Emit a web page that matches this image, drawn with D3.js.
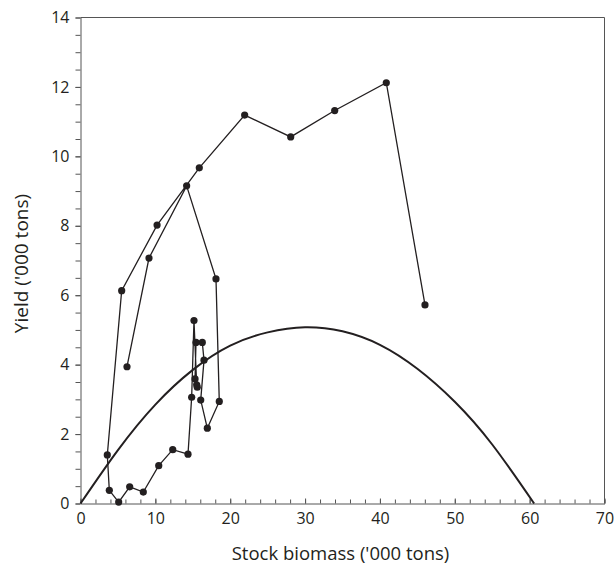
<!DOCTYPE html>
<html>
<head>
<meta charset="utf-8">
<script src="https://cdn.jsdelivr.net/npm/d3@7"></script>
<style>
  body { margin: 0; background: #fff; }
  svg text { font-family: "Open Sans", "Noto Sans", sans-serif; fill: #231f20; }
  .axis path, .axis line { stroke: #555; }
</style>
</head>
<body>
<svg id="chart"></svg>
<script>
// observed (stock biomass, yield) pairs in thousand tons, in path order
const biomass = [6.21, 9.15, 14.18, 18.1, 18.54, 16.94, 16.06, 16.5, 16.27, 15.43, 15.3, 15.6, 15.52,
  15.16, 14.85, 14.36, 12.32, 10.45, 8.39, 6.57, 5.1, 3.85, 3.58, 5.5, 10.23, 15.87, 21.93, 28.08,
  33.96, 40.85, 46.02];
const yieldTons = [3.94, 7.07, 9.15, 6.47, 2.94, 2.17, 2.98, 4.13, 4.64, 4.64, 3.59, 3.35, 3.42,
  5.27, 3.06, 1.42, 1.55, 1.09, 0.33, 0.48, 0.04, 0.38, 1.4, 6.13, 8.02, 9.67, 11.19, 10.56,
  11.32, 12.12, 5.72];

// equilibrium yield curve
const curveBiomass = [0, 5, 10, 15, 20, 25, 30, 35, 40, 45, 50, 55, 60.6];
const curveYield = [0, 1.54, 2.85, 3.85, 4.55, 4.93, 5.08, 4.96, 4.57, 3.88, 2.93, 1.7, 0];

const xTicks = [0, 10, 20, 30, 40, 50, 60, 70];
const yTicks = [0, 2, 4, 6, 8, 10, 12, 14];

const width = 615, height = 567;
const margin = { top: 17.5, right: 10.5, bottom: 63.5, left: 80.5 };
const innerW = width - margin.left - margin.right;
const innerH = height - margin.top - margin.bottom;

const svg = d3.select('#chart')
  .attr('width', width)
  .attr('height', height);

const g = svg.append('g')
  .attr('transform', `translate(${margin.left},${margin.top})`);

const x = d3.scaleLinear().domain([0, 70]).range([0, innerW]);
const y = d3.scaleLinear().domain([0, 14]).range([innerH, 0]);

// frame (top and right)
g.append('path')
  .attr('d', `M0,0H${innerW}V${innerH}`)
  .attr('fill', 'none')
  .attr('stroke', '#555');

// minor ticks
const xMinor = g.append('g')
  .attr('class', 'axis')
  .attr('transform', `translate(0,${innerH})`)
  .call(d3.axisBottom(x).tickValues(d3.range(0, 71, 2)).tickSize(-4).tickFormat(''));
xMinor.select('.domain').remove();

const yMinor = g.append('g')
  .attr('class', 'axis')
  .call(d3.axisLeft(y).tickValues(d3.range(0, 14.01, 0.5)).tickSize(5).tickFormat(''));
yMinor.select('.domain').remove();

// major axes
const xAxisG = g.append('g')
  .attr('class', 'axis')
  .attr('transform', `translate(0,${innerH})`)
  .call(d3.axisBottom(x).tickValues(xTicks).tickSize(-5).tickPadding(9).tickSizeOuter(0));
xAxisG.selectAll('text').attr('font-size', 16).attr('dy', '0.71em');

const yAxisG = g.append('g')
  .attr('class', 'axis')
  .call(d3.axisLeft(y).tickValues(yTicks).tickSize(5).tickPadding(6).tickSizeOuter(0));
yAxisG.selectAll('text').attr('font-size', 16);

g.selectAll('.axis text').style('font-family', '"Open Sans", "Noto Sans", sans-serif').attr('fill', '#231f20');

// axis titles
svg.append('text')
  .attr('x', margin.left + innerW / 2 - 2)
  .attr('y', 560)
  .attr('text-anchor', 'middle')
  .attr('font-size', 18.5)
  .text("Stock biomass ('000 tons)");

svg.append('text')
  .attr('transform', `translate(28,${margin.top + innerH / 2 + 3}) rotate(-90)`)
  .attr('text-anchor', 'middle')
  .attr('font-size', 19)
  .text("Yield ('000 tons)");

// equilibrium curve
const curveData = curveBiomass.map((b, i) => ({ b, v: curveYield[i] }));
g.append('path')
  .datum(curveData)
  .attr('fill', 'none')
  .attr('stroke', '#231f20')
  .attr('stroke-width', 2)
  .attr('d', d3.line()
    .x(d => x(d.b))
    .y(d => y(d.v))
    .curve(d3.curveNatural));

// observed path
const obs = biomass.map((b, i) => ({ b, v: yieldTons[i] }));
g.append('path')
  .datum(obs)
  .attr('fill', 'none')
  .attr('stroke', '#231f20')
  .attr('stroke-width', 1.3)
  .attr('d', d3.line().x(d => x(d.b)).y(d => y(d.v)));

g.selectAll('circle')
  .data(obs)
  .join('circle')
  .attr('cx', d => x(d.b))
  .attr('cy', d => y(d.v))
  .attr('r', 3.6)
  .attr('fill', '#231f20');
</script>
</body>
</html>
